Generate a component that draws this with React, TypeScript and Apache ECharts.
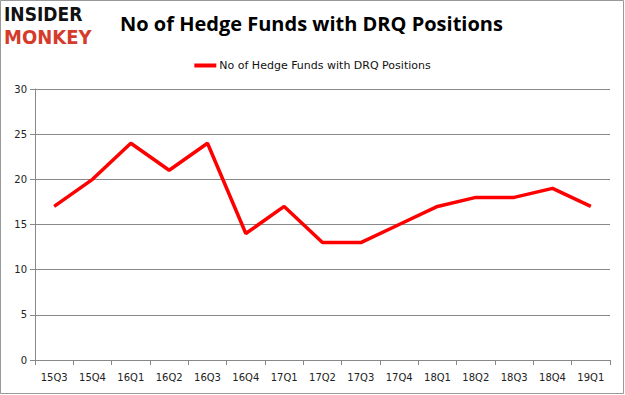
import React, { useEffect, useRef } from "react";
import * as echarts from "echarts";

const categories = ["15Q3", "15Q4", "16Q1", "16Q2", "16Q3", "16Q4", "17Q1", "17Q2", "17Q3", "17Q4", "18Q1", "18Q2", "18Q3", "18Q4", "19Q1"];
const hedgeFunds = [17, 20, 24, 21, 24, 14, 17, 13, 13, 15, 17, 18, 18, 19, 17];
const seriesName = "No of Hedge Funds with DRQ Positions";
const titleText = "No of Hedge Funds with DRQ Positions";

export default function App() {
  const ref = useRef<HTMLDivElement>(null);
  useEffect(() => {
    document.body.style.margin = "0";
    const chart = echarts.init(ref.current!, null, { renderer: "svg" });
    chart.setOption({
      animation: false,
      backgroundColor: "#fff",
      graphic: [
        { type: "rect", shape: { x: 0.5, y: 0.5, width: 623, height: 393 }, style: { fill: "none", stroke: "#999", lineWidth: 1 } },
        { type: "text", x: 4, y: 4, style: { text: "INSIDER", font: "900 19px 'DejaVu Sans Condensed', 'DejaVu Sans'", fill: "#111" } },
        { type: "text", x: 4, y: 27, style: { text: "MONKEY", font: "900 20px 'DejaVu Sans Condensed', 'DejaVu Sans'", fill: "#d43b2a" } },
        { type: "text", x: 120, y: 13, style: { text: titleText, font: "bold 20px 'Open Sans', 'Liberation Sans'", fill: "#000" } },
      ],
      legend: {
        top: 55,
        left: "center",
        itemWidth: 22,
        itemHeight: 4,
        icon: "rect",
        itemGap: 4,
        textStyle: { fontFamily: "'DejaVu Sans', sans-serif", fontSize: 11, color: "#111", padding: [0, 0, 0, -2] },
        data: [seriesName],
      },
      grid: { left: 35, right: 15, top: 89, bottom: 35, containLabel: false },
      xAxis: {
        type: "category",
        data: categories,
        boundaryGap: true,
        axisLine: { lineStyle: { color: "#888" } },
        axisTick: { show: true, alignWithLabel: false, length: 5, lineStyle: { color: "#888" } },
        axisLabel: { color: "#222", fontSize: 10, fontFamily: "'DejaVu Sans', sans-serif", margin: 12 },
      },
      yAxis: {
        type: "value",
        min: 0,
        max: 30,
        interval: 5,
        axisLine: { show: true, lineStyle: { color: "#888" } },
        axisTick: { show: true, length: 5, lineStyle: { color: "#888" } },
        splitLine: { lineStyle: { color: "#888" } },
        axisLabel: { color: "#222", fontSize: 10, fontFamily: "'DejaVu Sans', sans-serif", margin: 8 },
      },
      series: [
        {
          name: seriesName,
          type: "line",
          data: hedgeFunds,
          symbol: "none",
          lineStyle: { color: "#ff0000", width: 3.5 },
          itemStyle: { color: "#ff0000" },
        },
      ],
    });
    return () => chart.dispose();
  }, []);
  return <div ref={ref} style={{ width: 625, height: 395 }} />;
}
